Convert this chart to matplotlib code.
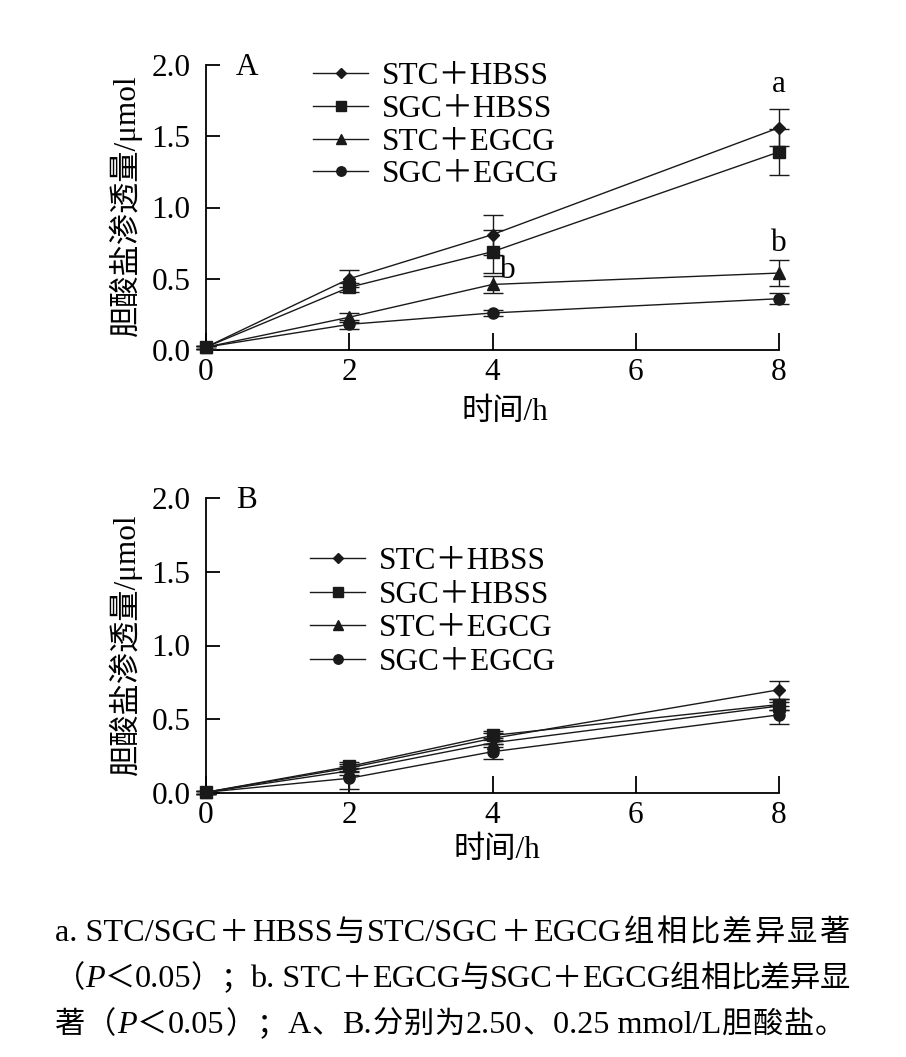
import numpy as np
import matplotlib
matplotlib.use("Agg")
import matplotlib.pyplot as plt
from matplotlib.lines import Line2D

plt.rcParams['font.family'] = ['Liberation Serif', 'Noto Sans CJK SC', 'DejaVu Sans']

# time points (h)
t = [0, 2, 4, 8]
labels = ['STC＋HBSS', 'SGC＋HBSS', 'STC＋EGCG', 'SGC＋EGCG']
markers = ['D', 's', '^', 'o']
msizes = [6, 9, 8, 8]

# panel A: 2.50 mmol/L
a_vals = [[0.02, 0.50, 0.81, 1.56],
          [0.02, 0.44, 0.69, 1.39],
          [0.02, 0.23, 0.46, 0.54],
          [0.02, 0.18, 0.26, 0.36]]
a_err = [[0.01, 0.06, 0.14, 0.13],
         [0.01, 0.03, 0.15, 0.16],
         [0.01, 0.03, 0.06, 0.09],
         [0.01, 0.03, 0.02, 0.04]]

# panel B: 0.25 mmol/L
b_vals = [[0.005, 0.17, 0.37, 0.70],
          [0.005, 0.18, 0.39, 0.60],
          [0.005, 0.15, 0.34, 0.59],
          [0.005, 0.10, 0.28, 0.53]]
b_err = [[0.01, 0.03, 0.04, 0.06],
         [0.01, 0.03, 0.03, 0.04],
         [0.01, 0.03, 0.03, 0.03],
         [0.01, 0.07, 0.05, 0.06]]

yticks = [0.0, 0.5, 1.0, 1.5, 2.0]
xticks = [0, 2, 4, 6, 8]
ylab = '胆酸盐渗透量/μmol'
xlab = '时间/h'

# caption lines; text between @ is italic
cap_lines = [
    'a. STC/SGC＋HBSS与STC/SGC＋EGCG组相比差异显著',
    '（@P@＜0.05）；b. STC＋EGCG与SGC＋EGCG组相比差异显',
    '著（@P@＜0.05）；A、B.分别为2.50、0.25 mmol/L胆酸盐。',
]

FS = 22.5

fig = plt.figure(figsize=(9.06, 10.57), dpi=100)
W, H = 906, 1057


def axes_px(l, r, top, bot):
    return fig.add_axes([l / W, 1 - bot / H, (r - l) / W, (bot - top) / H])


def draw_panel(ax, vals, errs, letter, leg_anchor, lsp):
    for v, e, m, ms in zip(vals, errs, markers, msizes):
        ax.errorbar(t, v, yerr=e, color='#1a1a1a', lw=1.0, marker=m, ms=ms,
                    capsize=7, capthick=1.0, elinewidth=1.0,
                    clip_on=False, zorder=3)
    ax.set_xlim(0, 8)
    ax.set_ylim(0, 2.0)
    ax.set_xticks(xticks)
    ax.set_yticks(yticks)
    ax.set_yticklabels(['%.1f' % y for y in yticks])
    for s in ['top', 'right']:
        ax.spines[s].set_visible(False)
    for s in ['left', 'bottom']:
        ax.spines[s].set_linewidth(1.3)
    ax.tick_params(axis='y', direction='in', length=10, width=1.3, pad=11, labelsize=FS)
    ax.tick_params(axis='x', direction='in', length=12, width=1.3, pad=6, labelsize=FS)
    ax.patch.set_alpha(0)
    ax.text(0.42, 1.98, letter, fontsize=FS, va='center', ha='left')
    handles = [Line2D([], [], color='#1a1a1a', lw=1.0, marker=m, ms=ms * 0.85)
               for m, ms in zip(markers, msizes)]
    ax.legend(handles, labels, loc='upper left', bbox_to_anchor=leg_anchor,
              bbox_transform=fig.transFigure, frameon=False, fontsize=FS,
              handlelength=1.76, handletextpad=0.45, labelspacing=lsp,
              borderpad=0, borderaxespad=0)


axA = axes_px(206, 779, 65, 350)
draw_panel(axA, a_vals, a_err, 'A', (313 / W, 1 - 62 / H), 0.12)
axA.text(8, 1.86, 'a', fontsize=FS, ha='center', va='center')
axA.text(8, 0.75, 'b', fontsize=FS, ha='center', va='center')
axA.text(4.1, 0.56, 'b', fontsize=FS, ha='left', va='center')

axB = axes_px(206, 779, 498, 793)
draw_panel(axB, b_vals, b_err, 'B', (310 / W, 1 - 547 / H), 0.15)

fig.text(125 / W, 1 - 205 / H, ylab, rotation=90, fontsize=FS, ha='center', va='center')
fig.text(125 / W, 1 - 644 / H, ylab, rotation=90, fontsize=FS, ha='center', va='center')
fig.text(505 / W, 1 - 413 / H, xlab, fontsize=FS, ha='center', va='center')
fig.text(497 / W, 1 - 851 / H, xlab, fontsize=FS, ha='center', va='center')

# caption, justified like the printed paragraph
cap_base = [941, 987, 1033]
cap_right = [850, 850, 845]
CJK_FS, LAT_FS = 21.8, 23.2


def tokens(s):
    out = []
    ital = False
    for ch in s:
        if ch == '@':
            ital = not ital
            out.append(None)
            continue
        if ord(ch) > 0x2E80:
            out.append(('cjk', False, ch))
            out.append(None)
        elif out and out[-1] is not None and out[-1][0] == 'lat':
            out[-1] = ('lat', ital, out[-1][2] + ch)
        else:
            out.append(('lat', ital, ch))
    return [o for o in out if o is not None]


fig.canvas.draw()
rend = fig.canvas.get_renderer()
for line, yb, xr in zip(cap_lines, cap_base, cap_right):
    objs = []
    for kind, ital, s in tokens(line):
        if kind == 'cjk':
            tx = fig.text(0, 1 - yb / H, s, fontsize=CJK_FS, ha='left', va='baseline',
                          family=['Noto Sans CJK SC'])
        else:
            tx = fig.text(0, 1 - yb / H, s, fontsize=LAT_FS, ha='left', va='baseline',
                          style='italic' if ital else 'normal',
                          family=['Liberation Serif', 'Noto Sans CJK SC'])
        objs.append((tx, tx.get_window_extent(renderer=rend).width))
    natural = sum(w for _, w in objs)
    gap = (xr - 55 - natural) / (len(objs) - 1)
    x = 55
    for tx, w in objs:
        tx.set_x(x / W)
        x += w + gap

fig.savefig('out.png', dpi=100)
